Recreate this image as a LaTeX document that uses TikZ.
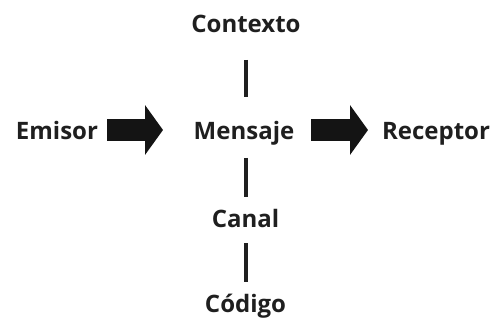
\documentclass[tikz,border=0pt]{standalone}
\usepackage{fontspec}
\setmainfont{Open Sans}
\usetikzlibrary{arrows.meta}
\begin{document}
\begin{tikzpicture}[x=1pt,y=-1pt,
  lbl/.style={font=\fontsize{24}{28}\selectfont\bfseries, text=black!88, inner sep=0pt, text height=20pt, text depth=0pt},
  vline/.style={draw=black!88, line width=4pt},
  bigarrow/.style={draw=black!92, line width=22pt, -{Triangle[width=49pt,length=18pt]}}]
\useasboundingbox (0,0) rectangle (492,320);
\node[lbl] (ctx) at (246,23) {Contexto};
\node[lbl] (emi) at (57,130) {Emisor};
\node[lbl] (msg) at (244,130) {Mensaje};
\node[lbl] (rec) at (436,130) {Receptor};
\node[lbl] (can) at (245.5,218) {Canal};
\node[lbl] (cod) at (245.5,302) {Código};
\draw[vline, shorten <=37pt, shorten >=33pt] (ctx.center) -- (ctx.center |- msg.center);
\draw[vline, shorten <=28pt, shorten >=21pt] (can.center |- msg.center) -- (can.center);
\draw[vline, shorten <=25pt, shorten >=20pt] (can.center) -- (cod.center);
\draw[bigarrow, shorten <=50pt, shorten >=81pt] (emi.center) -- (msg.center);
\draw[bigarrow, shorten <=67pt, shorten >=68pt] (msg.center) -- (rec.center);
\end{tikzpicture}
\end{document}
